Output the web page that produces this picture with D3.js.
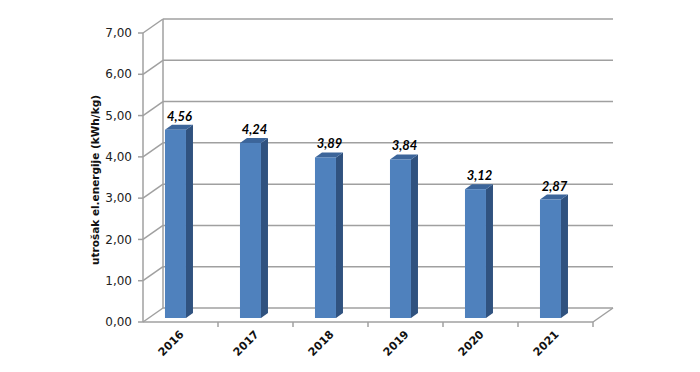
<!DOCTYPE html>
<html>
<head>
<meta charset="utf-8">
<script src="https://cdn.jsdelivr.net/npm/d3@7"></script>
<style>
  body { margin: 0; background: #fff; }
  svg text { font-family: "DejaVu Sans", sans-serif; }
  svg text.narrow { font-family: Lato, "DejaVu Sans", sans-serif; }
</style>
</head>
<body>
<div id="main"></div>
<script>
// DATA
const years  = ["2016", "2017", "2018", "2019", "2020", "2021"]
const values = [4.56, 4.24, 3.89, 3.84, 3.12, 2.87]
const yTicks = [0, 1, 2, 3, 4, 5, 6, 7]
const yTitle = "utrošak el.energije (kWh/kg)"

const width = 700, height = 372

// 3D depth of the box and of the bars
const DEPTH = [20, -14]
const BAR_OFF = [6, -4]
const BAR_DEPTH = [7, -5]

const x = d3.scaleBand().domain(years).range([143, 593])
const y = d3.scaleLinear().domain([0, 7]).range([322, 33])

const fmt = v => v.toFixed(2).replace(".", ",")

const svg = d3.select("#main").append("svg")
    .attr("width", width)
    .attr("height", height)

const grid = svg.append("g")
    .attr("stroke", "#a0a0a0")
    .attr("stroke-width", 1.5)
    .attr("fill", "none")

// back wall gridlines + side wall diagonals
yTicks.forEach(t => {
    const yy = y(t)
    grid.append("line")
        .attr("x1", 143 + DEPTH[0]).attr("x2", 593 + DEPTH[0])
        .attr("y1", yy + DEPTH[1]).attr("y2", yy + DEPTH[1])
    grid.append("line")
        .attr("x1", 143).attr("x2", 143 + DEPTH[0])
        .attr("y1", yy).attr("y2", yy + DEPTH[1])
    grid.append("line")
        .attr("x1", 138).attr("x2", 143)
        .attr("y1", yy).attr("y2", yy)
})

// back wall left edge, front axis
grid.append("line")
    .attr("x1", 143 + DEPTH[0]).attr("x2", 143 + DEPTH[0])
    .attr("y1", y(7) + DEPTH[1]).attr("y2", y(0) + DEPTH[1])
grid.append("line")
    .attr("x1", 143).attr("x2", 143)
    .attr("y1", y(7)).attr("y2", y(0))

// floor front edge and right edge
grid.append("line")
    .attr("x1", 143).attr("x2", 593)
    .attr("y1", y(0)).attr("y2", y(0))
grid.append("line")
    .attr("x1", 593).attr("x2", 593 + DEPTH[0])
    .attr("y1", y(0)).attr("y2", y(0) + DEPTH[1])

// category ticks
years.forEach(d => {
    const xx = x(d) + x.bandwidth()
    grid.append("line")
        .attr("x1", xx).attr("x2", xx)
        .attr("y1", y(0)).attr("y2", y(0) + 5)
})

// y tick labels
svg.append("g").selectAll("text")
    .data(yTicks)
    .enter().append("text")
        .attr("x", 132)
        .attr("y", d => y(d))
        .attr("dy", "0.35em")
        .attr("text-anchor", "end")
        .attr("font-size", 12)
        .attr("fill", "#222")
        .text(fmt)

// y title
svg.append("text")
    .attr("transform", `translate(99,180) rotate(-90)`)
    .attr("text-anchor", "middle")
    .attr("font-size", 10.5)
    .attr("font-weight", "bold")
    .attr("fill", "#111")
    .text(yTitle)

// x labels
svg.append("g").selectAll("text")
    .data(years)
    .enter().append("text")
        .attr("transform", d => `translate(${x(d) + x.bandwidth() / 2 + 4},${y(0) + 13}) rotate(-45)`)
        .attr("text-anchor", "end")
        .attr("font-size", 11)
        .attr("font-weight", "bold")
        .attr("fill", "#111")
        .text(d => d)

// bars
const bw = x.bandwidth() * 0.28
const bx = d => x(d) + x.bandwidth() * 0.293

const bars = svg.append("g").selectAll("g")
    .data(years.map((d, i) => ({ year: d, value: values[i] })))
    .enter().append("g")

bars.each(function(d) {
    const g = d3.select(this)
    const x0 = bx(d.year), x1 = x0 + bw
    const yt = y(d.value) + BAR_OFF[1], yb = y(0) + BAR_OFF[1]
    const [dx, dy] = BAR_DEPTH
    // side
    g.append("path")
        .attr("d", `M${x1},${yb} L${x1 + dx},${yb + dy} L${x1 + dx},${yt + dy} L${x1},${yt} Z`)
        .attr("fill", "#30527f")
    // top
    g.append("path")
        .attr("d", `M${x0},${yt} L${x0 + dx},${yt + dy} L${x1 + dx},${yt + dy} L${x1},${yt} Z`)
        .attr("fill", "#3c659a")
    // front
    g.append("rect")
        .attr("x", x0).attr("y", yt)
        .attr("width", bw).attr("height", yb - yt)
        .attr("fill", "#4f81bd")
    // value label
    g.append("text")
        .attr("class", "narrow")
        .attr("x", x0 + bw / 2 + 4)
        .attr("y", yt + dy - 4)
        .attr("text-anchor", "middle")
        .attr("font-size", 13)
        .attr("font-weight", "bold")
        .attr("font-style", "italic")
        .attr("fill", "#000")
        .text(fmt(d.value))
})
</script>
</body>
</html>
